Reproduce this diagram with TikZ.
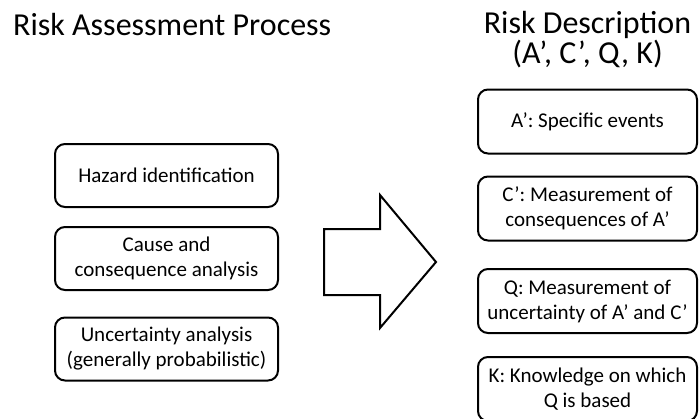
\documentclass[tikz,border=0pt]{standalone}
\usepackage{fontspec}
\setmainfont{Carlito}
\usetikzlibrary{positioning}
\tikzset{
  stepbox/.style={draw, line width=2pt, rounded corners=10pt, align=center,
    inner sep=0pt, font=\fontsize{21}{25}\selectfont},
  leftbox/.style={stepbox, minimum width=223pt, minimum height=63pt},
  rightbox/.style={stepbox, minimum width=219pt, minimum height=64pt},
  headline/.style={inner sep=0pt, align=center, font=\fontsize{32}{30}\selectfont}
}

\begin{document}
\begin{tikzpicture}[x=1pt,y=-1pt]
    \useasboundingbox (0,0) rectangle (699,418);
    \clip (0,0) rectangle (699,418);
    % titles
    \node[headline, anchor=base west] (proc) at (13,35) {Risk Assessment Process};
    \node[headline, anchor=north] (desc) at (587.5,11) {Risk Description\\(A', C', Q, K)};
    % left column
    \node[leftbox] (hazard) at (166.5,175.5) {Hazard identification};
    \node[leftbox] (cause) at (166.5,258.5) {Cause and\\consequence analysis};
    \node[leftbox] (uncert) at (166.5,349) {Uncertainty analysis\\(generally probabilistic)};
    % big arrow
    \draw[line width=2pt, line join=miter] (324,229) -- (380,229) -- (380,195) -- (436,262)
      -- (380,328) -- (380,295) -- (324,295) -- cycle;
    % right column
    \node[rightbox] (events) at (587.5,121.5) {A': Specific events};
    \node[rightbox] (conseq) at (587.5,208.5) {C': Measurement of\\consequences of A'};
    \node[rightbox] (qmeas) at (587.5,301) {Q: Measurement of\\uncertainty of A' and C'};
    \node[rightbox] (know) at (587.5,389) {K: Knowledge on which\\Q is based};
\end{tikzpicture}
\end{document}
